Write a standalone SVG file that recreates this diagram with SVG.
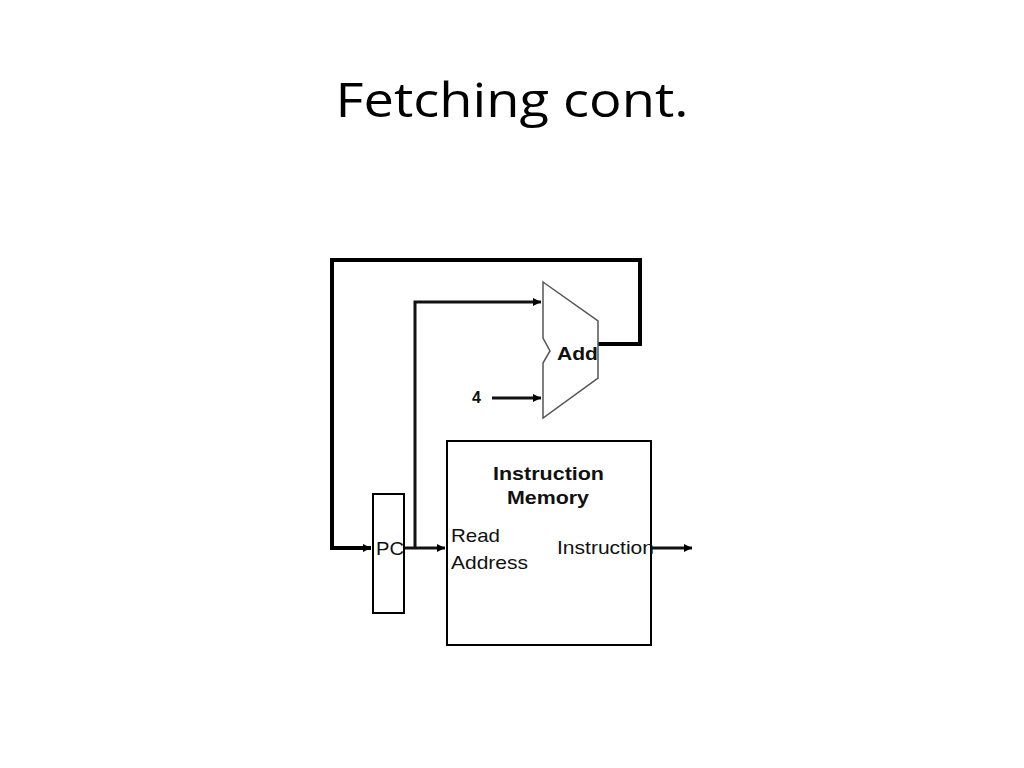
<svg xmlns="http://www.w3.org/2000/svg" width="1024" height="768" viewBox="0 0 1024 768">
<style>
.wire{fill:none;stroke:#000;stroke-width:4;stroke-linejoin:miter}
.thin{fill:none;stroke:#111;stroke-width:3}
.box{fill:#fff;stroke:#000;stroke-width:2}
.lbl{font-family:"Liberation Sans",Arial,sans-serif;fill:#111}
</style>
<defs>
<marker id="ah" markerWidth="8" markerHeight="8" refX="8" refY="4" orient="auto" markerUnits="userSpaceOnUse">
<path d="M0,0 L8,4 L0,8 Z" fill="#000"/>
</marker>
</defs>
<rect width="1024" height="768" fill="#fff"/>
<text x="512" y="117" text-anchor="middle" font-family="Open Sans, Liberation Sans, sans-serif" font-size="48" textLength="353" lengthAdjust="spacingAndGlyphs" fill="#000">Fetching cont.</text>
<g id="connectors">
<path class="wire" d="M598,344 H640 V260 H332 V548 H371" marker-end="url(#ah)"/>
<path class="thin" d="M415,548 V302 H541" marker-end="url(#ah)"/>
<path class="thin" d="M492,398 H541" marker-end="url(#ah)"/>
<path class="thin" d="M404,548 H445" marker-end="url(#ah)"/>
<path class="thin" d="M651,548 H692" marker-end="url(#ah)"/>
</g>
<g id="adder">
<path d="M543,282 L598,321 V378 L543,418 V363 L550,351 L543,338 Z" fill="#fff" stroke="#555" stroke-width="1.5"/>
<text class="lbl" x="557" y="360" font-size="18" font-weight="bold" textLength="41" lengthAdjust="spacingAndGlyphs">Add</text>
</g>
<g id="four"><text class="lbl" x="472" y="403" font-size="16" font-weight="bold">4</text></g>
<g id="pc">
<rect class="box" x="373" y="494" width="31" height="119" stroke-width="1.5"/>
<text class="lbl" x="376" y="555" font-size="19" textLength="28" lengthAdjust="spacingAndGlyphs">PC</text>
</g>
<g id="imem">
<rect class="box" x="447" y="441" width="204" height="204"/>
<text class="lbl" x="493" y="480" font-size="18" font-weight="bold" textLength="111" lengthAdjust="spacingAndGlyphs">Instruction</text>
<text class="lbl" x="507" y="504" font-size="18" font-weight="bold" textLength="82" lengthAdjust="spacingAndGlyphs">Memory</text>
<text class="lbl" x="451" y="542" font-size="19" textLength="49" lengthAdjust="spacingAndGlyphs">Read</text>
<text class="lbl" x="451" y="569" font-size="19" textLength="77" lengthAdjust="spacingAndGlyphs">Address</text>
<text class="lbl" x="557" y="554" font-size="18" textLength="97" lengthAdjust="spacingAndGlyphs">Instruction</text>
</g>
</svg>
